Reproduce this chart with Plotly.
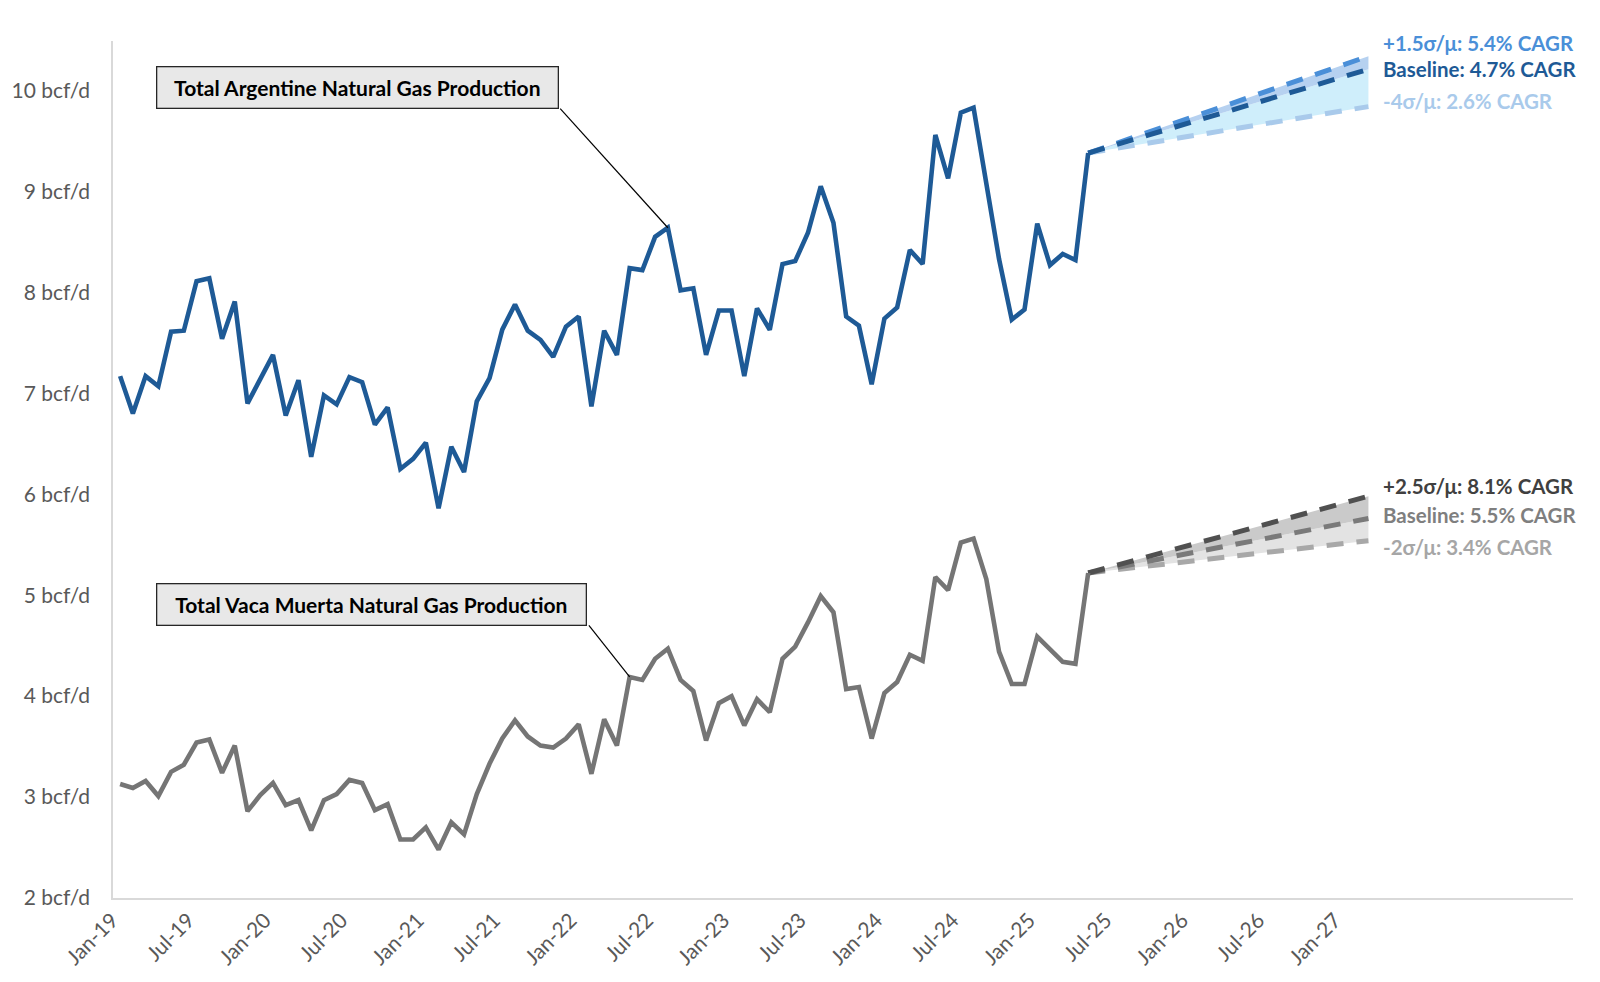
import plotly.graph_objects as go

# ---------------- data ----------------
tick_labels = ["Jan-19", "Jul-19", "Jan-20", "Jul-20", "Jan-21", "Jul-21", "Jan-22", "Jul-22",
               "Jan-23", "Jul-23", "Jan-24", "Jul-24", "Jan-25", "Jul-25", "Jan-26", "Jul-26", "Jan-27"]
tick_index = [0, 6, 12, 18, 24, 30, 36, 42, 48, 54, 60, 66, 72, 78, 84, 90, 96]

y_ticks = [2, 3, 4, 5, 6, 7, 8, 9, 10]
y_tick_labels = [f"{v} bcf/d" for v in y_ticks]

# Monthly production Jan-19 .. May-25 (bcf/d)
argentina = [7.17, 6.80, 7.17, 7.07, 7.61, 7.62, 8.11, 8.14, 7.54, 7.91, 6.90, 7.15,
             7.38, 6.78, 7.13, 6.37, 6.98, 6.89, 7.16, 7.11, 6.69, 6.86, 6.25, 6.35,
             6.51, 5.86, 6.47, 6.22, 6.92, 7.15, 7.63, 7.88, 7.62, 7.53, 7.36, 7.66,
             7.76, 6.87, 7.62, 7.38, 8.24, 8.22, 8.55, 8.64, 8.02, 8.04, 7.38, 7.82,
             7.82, 7.17, 7.84, 7.63, 8.28, 8.31, 8.59, 9.05, 8.69, 7.76, 7.67, 7.09,
             7.74, 7.85, 8.42, 8.28, 9.56, 9.13, 9.78, 9.83, 9.08, 8.33, 7.73, 7.83,
             8.68, 8.27, 8.38, 8.32, 9.38]

vaca_muerta = [3.13, 3.09, 3.16, 3.01, 3.25, 3.32, 3.54, 3.57, 3.24, 3.51, 2.86, 3.02,
               3.14, 2.92, 2.97, 2.67, 2.97, 3.03, 3.17, 3.14, 2.87, 2.93, 2.58, 2.58,
               2.70, 2.48, 2.75, 2.63, 3.03, 3.33, 3.58, 3.76, 3.60, 3.51, 3.49, 3.58,
               3.72, 3.23, 3.77, 3.51, 4.19, 4.16, 4.37, 4.47, 4.16, 4.05, 3.56, 3.93,
               4.00, 3.71, 3.97, 3.84, 4.37, 4.49, 4.73, 4.99, 4.83, 4.07, 4.09, 3.58,
               4.03, 4.14, 4.41, 4.35, 5.18, 5.05, 5.52, 5.56, 5.16, 4.44, 4.12, 4.12,
               4.59, 4.46, 4.34, 4.32, 5.22]

# Projection (May-25 -> Mar-27)
proj_index = [76, 98]
arg_high = [9.38, 10.34]
arg_base = [9.38, 10.21]
arg_low = [9.38, 9.84]
vm_high = [5.22, 5.98]
vm_base = [5.22, 5.76]
vm_low = [5.22, 5.54]

arg_labels = ["+1.5σ/μ: 5.4% CAGR", "Baseline: 4.7% CAGR", "-4σ/μ: 2.6% CAGR"]
vm_labels = ["+2.5σ/μ: 8.1% CAGR", "Baseline: 5.5% CAGR", "-2σ/μ: 3.4% CAGR"]

# ---------------- styles ----------------
FONT = "Lato"
BLUE = "#1E5A96"
GREY = "#757575"
arg_cols = ["#4A8FD8", "#1E5A96", "#A9CAEB"]
vm_cols = ["#505050", "#7A7A7A", "#A8A8A8"]
DASH = "17px,13px"
YMIN, YMAX = 2, 10.49
LABEL_X = 99.0

fig = go.Figure()

def band(x, low, base, high, c_low, c_high):
    fig.add_trace(go.Scatter(x=x, y=low, mode="lines", line=dict(width=0), hoverinfo="skip"))
    fig.add_trace(go.Scatter(x=x, y=base, mode="lines", line=dict(width=0), fill="tonexty",
                             fillcolor=c_low, hoverinfo="skip"))
    fig.add_trace(go.Scatter(x=x, y=high, mode="lines", line=dict(width=0), fill="tonexty",
                             fillcolor=c_high, hoverinfo="skip"))

band(proj_index, arg_low, arg_base, arg_high, "#CFEEFB", "#B6D1F0")
band(proj_index, vm_low, vm_base, vm_high, "#E3E3E3", "#CACACA")

# dashed projection lines
for ys, c in zip([arg_low, arg_high, arg_base], [arg_cols[2], arg_cols[0], arg_cols[1]]):
    fig.add_trace(go.Scatter(x=proj_index, y=ys, mode="lines",
                             line=dict(color=c, width=5, dash=DASH)))
for ys, c in zip([vm_low, vm_base, vm_high], [vm_cols[2], vm_cols[1], vm_cols[0]]):
    fig.add_trace(go.Scatter(x=proj_index, y=ys, mode="lines",
                             line=dict(color=c, width=5, dash=DASH)))

# actual series
x_idx = list(range(len(argentina)))
fig.add_trace(go.Scatter(x=x_idx, y=argentina, mode="lines",
                         line=dict(color=BLUE, width=4.6)))
fig.add_trace(go.Scatter(x=x_idx, y=vaca_muerta, mode="lines",
                         line=dict(color=GREY, width=4.6)))

annotations = []
# projection labels
for txt, yy, c in zip(arg_labels, [10.475, 10.21, 9.90], arg_cols):
    annotations.append(dict(x=LABEL_X, y=(yy - YMIN) / (YMAX - YMIN), xref="x", yref="paper",
                            xanchor="left", yanchor="middle",
                            text=f"<b>{txt}</b>", showarrow=False,
                            font=dict(family=FONT, size=20.5, color=c)))
for txt, yy, c in zip(vm_labels, [6.08, 5.79, 5.48], ["#404040", "#7F7F7F", "#A6A6A6"]):
    annotations.append(dict(x=LABEL_X, y=yy, xref="x", yref="y", xanchor="left", yanchor="middle",
                            text=f"<b>{txt}</b>", showarrow=False,
                            font=dict(family=FONT, size=20.5, color=c)))

# callout boxes
annotations.append(dict(x=2.82, y=10.03, xref="x", yref="y", xanchor="left", yanchor="middle",
                        text="<b>Total Argentine Natural Gas Production</b>", showarrow=False,
                        bgcolor="#E8E8E8", bordercolor="#262626", borderwidth=1.3, borderpad=0,
                        width=400, height=40, align="center",
                        font=dict(family=FONT, size=21, color="#000000")))
annotations.append(dict(x=2.82, y=4.91, xref="x", yref="y", xanchor="left", yanchor="middle",
                        text="<b>Total Vaca Muerta Natural Gas Production</b>", showarrow=False,
                        bgcolor="#E8E8E8", bordercolor="#262626", borderwidth=1.3, borderpad=0,
                        width=428, height=40, align="center",
                        font=dict(family=FONT, size=21, color="#000000")))

shapes = [
    dict(type="line", xref="x", yref="y", x0=34.55, y0=9.82, x1=43, y1=argentina[43],
         line=dict(color="#000000", width=1.2)),
    dict(type="line", xref="x", yref="y", x0=36.8, y0=4.70, x1=40, y1=vaca_muerta[40],
         line=dict(color="#000000", width=1.2)),
]

fig.update_layout(
    width=1600, height=982,
    margin=dict(l=105, r=35, t=33, b=92, autoexpand=False),
    paper_bgcolor="white", plot_bgcolor="white",
    showlegend=False,
    annotations=annotations,
    shapes=shapes,
    font=dict(family=FONT, color="#595959"),
    xaxis=dict(range=[-0.56, 114.06], tickmode="array", tickvals=tick_index, ticktext=tick_labels,
               tickangle=-45, showgrid=False, zeroline=False, showline=True, automargin=False,
               linecolor="#D9D9D9", linewidth=1.5, ticks="", ticklabelshift=-8,
               tickfont=dict(family=FONT, size=21, color="#595959")),
    yaxis=dict(range=[YMIN, YMAX], tickmode="array", tickvals=y_ticks, ticktext=y_tick_labels,
               showgrid=False, zeroline=False, showline=True, linecolor="#D9D9D9", linewidth=1.5,
               ticks="", ticklabelstandoff=17, automargin=False,
               tickfont=dict(family=FONT, size=21, color="#595959")),
)

fig.write_html("out.html")
